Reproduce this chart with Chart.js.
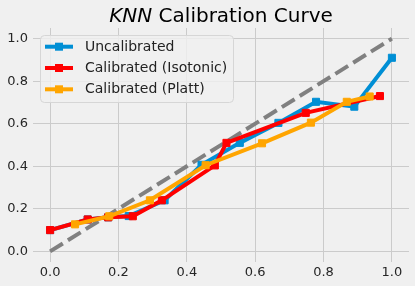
<!DOCTYPE html>
<html>
<head>
<meta charset="utf-8">
<script src="https://cdn.jsdelivr.net/npm/chart.js@4.4.1/dist/chart.umd.min.js"></script>
<style>
  html, body { margin: 0; padding: 0; background: #f0f0f0; }
  #wrap { width: 415px; height: 286px; position: relative; }
</style>
</head>
<body>
<div id="wrap"><canvas id="c"></canvas></div>
<script>
// ── Data ──
const TICKS   = [0, 0.2, 0.4, 0.6, 0.8, 1.0];
const diagX   = [0, 1];
const diagY   = [0, 1];
const uncalX  = [0.0, 0.11, 0.17, 0.23, 0.335, 0.443, 0.555, 0.668, 0.778, 0.89, 1.0];
const uncalY  = [0.10, 0.15, 0.16, 0.166, 0.24, 0.407, 0.51, 0.604, 0.703, 0.68, 0.91];
const isoX    = [0.0, 0.11, 0.17, 0.242, 0.327, 0.482, 0.516, 0.748, 0.965];
const isoY    = [0.10, 0.15, 0.16, 0.165, 0.24, 0.404, 0.51, 0.651, 0.73];
const plattX  = [0.073, 0.173, 0.292, 0.455, 0.62, 0.763, 0.868, 0.935];
const plattY  = [0.127, 0.165, 0.24, 0.405, 0.508, 0.605, 0.703, 0.728];

const BLUE   = '#008fd5';
const RED    = '#ff0000';
const ORANGE = '#ffa500';
const GRAY   = '#808080';
const FONT   = 'DejaVu Sans';

const pts = (xs, ys) => xs.map((x, i) => ({ x, y: ys[i] }));

const series = (label, xs, ys, color, order) => ({
  label, data: pts(xs, ys), order,
  showLine: true, borderColor: color, backgroundColor: color,
  borderWidth: 4, pointStyle: 'rect', pointRadius: 5,
  pointBorderWidth: 1, pointBorderColor: color, pointBackgroundColor: color,
});

// background fill
const bgPlugin = {
  id: 'bg',
  beforeDraw(chart) {
    const ctx = chart.ctx;
    ctx.save();
    ctx.fillStyle = '#f0f0f0';
    ctx.fillRect(0, 0, chart.width, chart.height);
    ctx.restore();
  },
};

// title with italic "KNN"
const titlePlugin = {
  id: 'title538',
  afterDraw(chart) {
    const ctx = chart.ctx;
    const a = chart.chartArea;
    ctx.save();
    ctx.fillStyle = '#000';
    ctx.textBaseline = 'alphabetic';
    ctx.font = `oblique 20px "${FONT}"`;
    const w1 = ctx.measureText('KNN').width;
    ctx.font = `20px "${FONT}"`;
    const rest = ' Calibration Curve';
    const w2 = ctx.measureText(rest).width;
    let x = (a.left + a.right) / 2 - (w1 + w2) / 2;
    ctx.font = `oblique 20px "${FONT}"`;
    ctx.fillText('KNN', x, 21.5);
    ctx.font = `20px "${FONT}"`;
    ctx.fillText(rest, x + w1, 21.5);
    ctx.restore();
  },
};

// matplotlib-style legend box in the upper left
const legendPlugin = {
  id: 'legend538',
  afterDraw(chart) {
    const ctx = chart.ctx;
    const items = chart.data.datasets.filter(d => d.label);
    const x0 = 40, y0 = 35, w = 193, h = 67, r = 4;
    ctx.save();
    ctx.beginPath();
    ctx.roundRect(x0 + 0.5, y0 + 0.5, w, h, r);
    ctx.fillStyle = 'rgba(240,240,240,0.8)';
    ctx.fill();
    ctx.strokeStyle = '#d6d6d6';
    ctx.lineWidth = 1;
    ctx.stroke();
    ctx.font = `14px "${FONT}"`;
    ctx.textBaseline = 'middle';
    items.forEach((d, i) => {
      const y = 46.7 + i * 21.3;
      ctx.strokeStyle = d.borderColor;
      ctx.lineWidth = 4;
      ctx.beginPath();
      ctx.moveTo(45, y);
      ctx.lineTo(73, y);
      ctx.stroke();
      ctx.fillStyle = d.borderColor;
      ctx.fillRect(55, y - 4, 8, 8);
      ctx.fillStyle = '#222';
      ctx.fillText(d.label, 85, y + 0.5);
    });
    ctx.restore();
  },
};

const axisCommon = {
  type: 'linear', min: -0.05, max: 1.05,
  grid: { color: '#cbcbcb', lineWidth: 1, drawTicks: false },
  border: { display: false },
  afterBuildTicks: axis => { axis.ticks = TICKS.map(v => ({ value: v })); },
};

new Chart(document.getElementById('c'), {
  type: 'scatter',
  data: {
    datasets: [
      series('Uncalibrated',          uncalX, uncalY, BLUE,   2),
      series('Calibrated (Isotonic)', isoX,   isoY,   RED,    1),
      series('Calibrated (Platt)',    plattX, plattY, ORANGE, 0),
      {
        label: '', data: pts(diagX, diagY), order: 3,
        showLine: true, borderColor: GRAY, borderWidth: 4,
        borderDash: [15, 6], pointRadius: 0,
      },
    ],
  },
  options: {
    responsive: true, maintainAspectRatio: false, animation: false,
    layout: { padding: { top: 28, right: 6, left: 0, bottom: 0 } },
    plugins: { legend: { display: false }, tooltip: { enabled: false }, title: { display: false } },
    scales: {
      x: {
        ...axisCommon,
        ticks: { color: '#262626', font: { family: FONT, size: 13 }, padding: 3,
                 autoSkip: false, maxRotation: 0, callback: v => v.toFixed(1) },
        afterFit: s => { s.height = 24; },
      },
      y: {
        ...axisCommon,
        ticks: { color: '#262626', font: { family: FONT, size: 13 }, padding: 5,
                 autoSkip: false, callback: v => v.toFixed(1) },
        afterFit: s => { s.width = 33; },
      },
    },
  },
  plugins: [bgPlugin, titlePlugin, legendPlugin],
});
</script>
</body>
</html>
